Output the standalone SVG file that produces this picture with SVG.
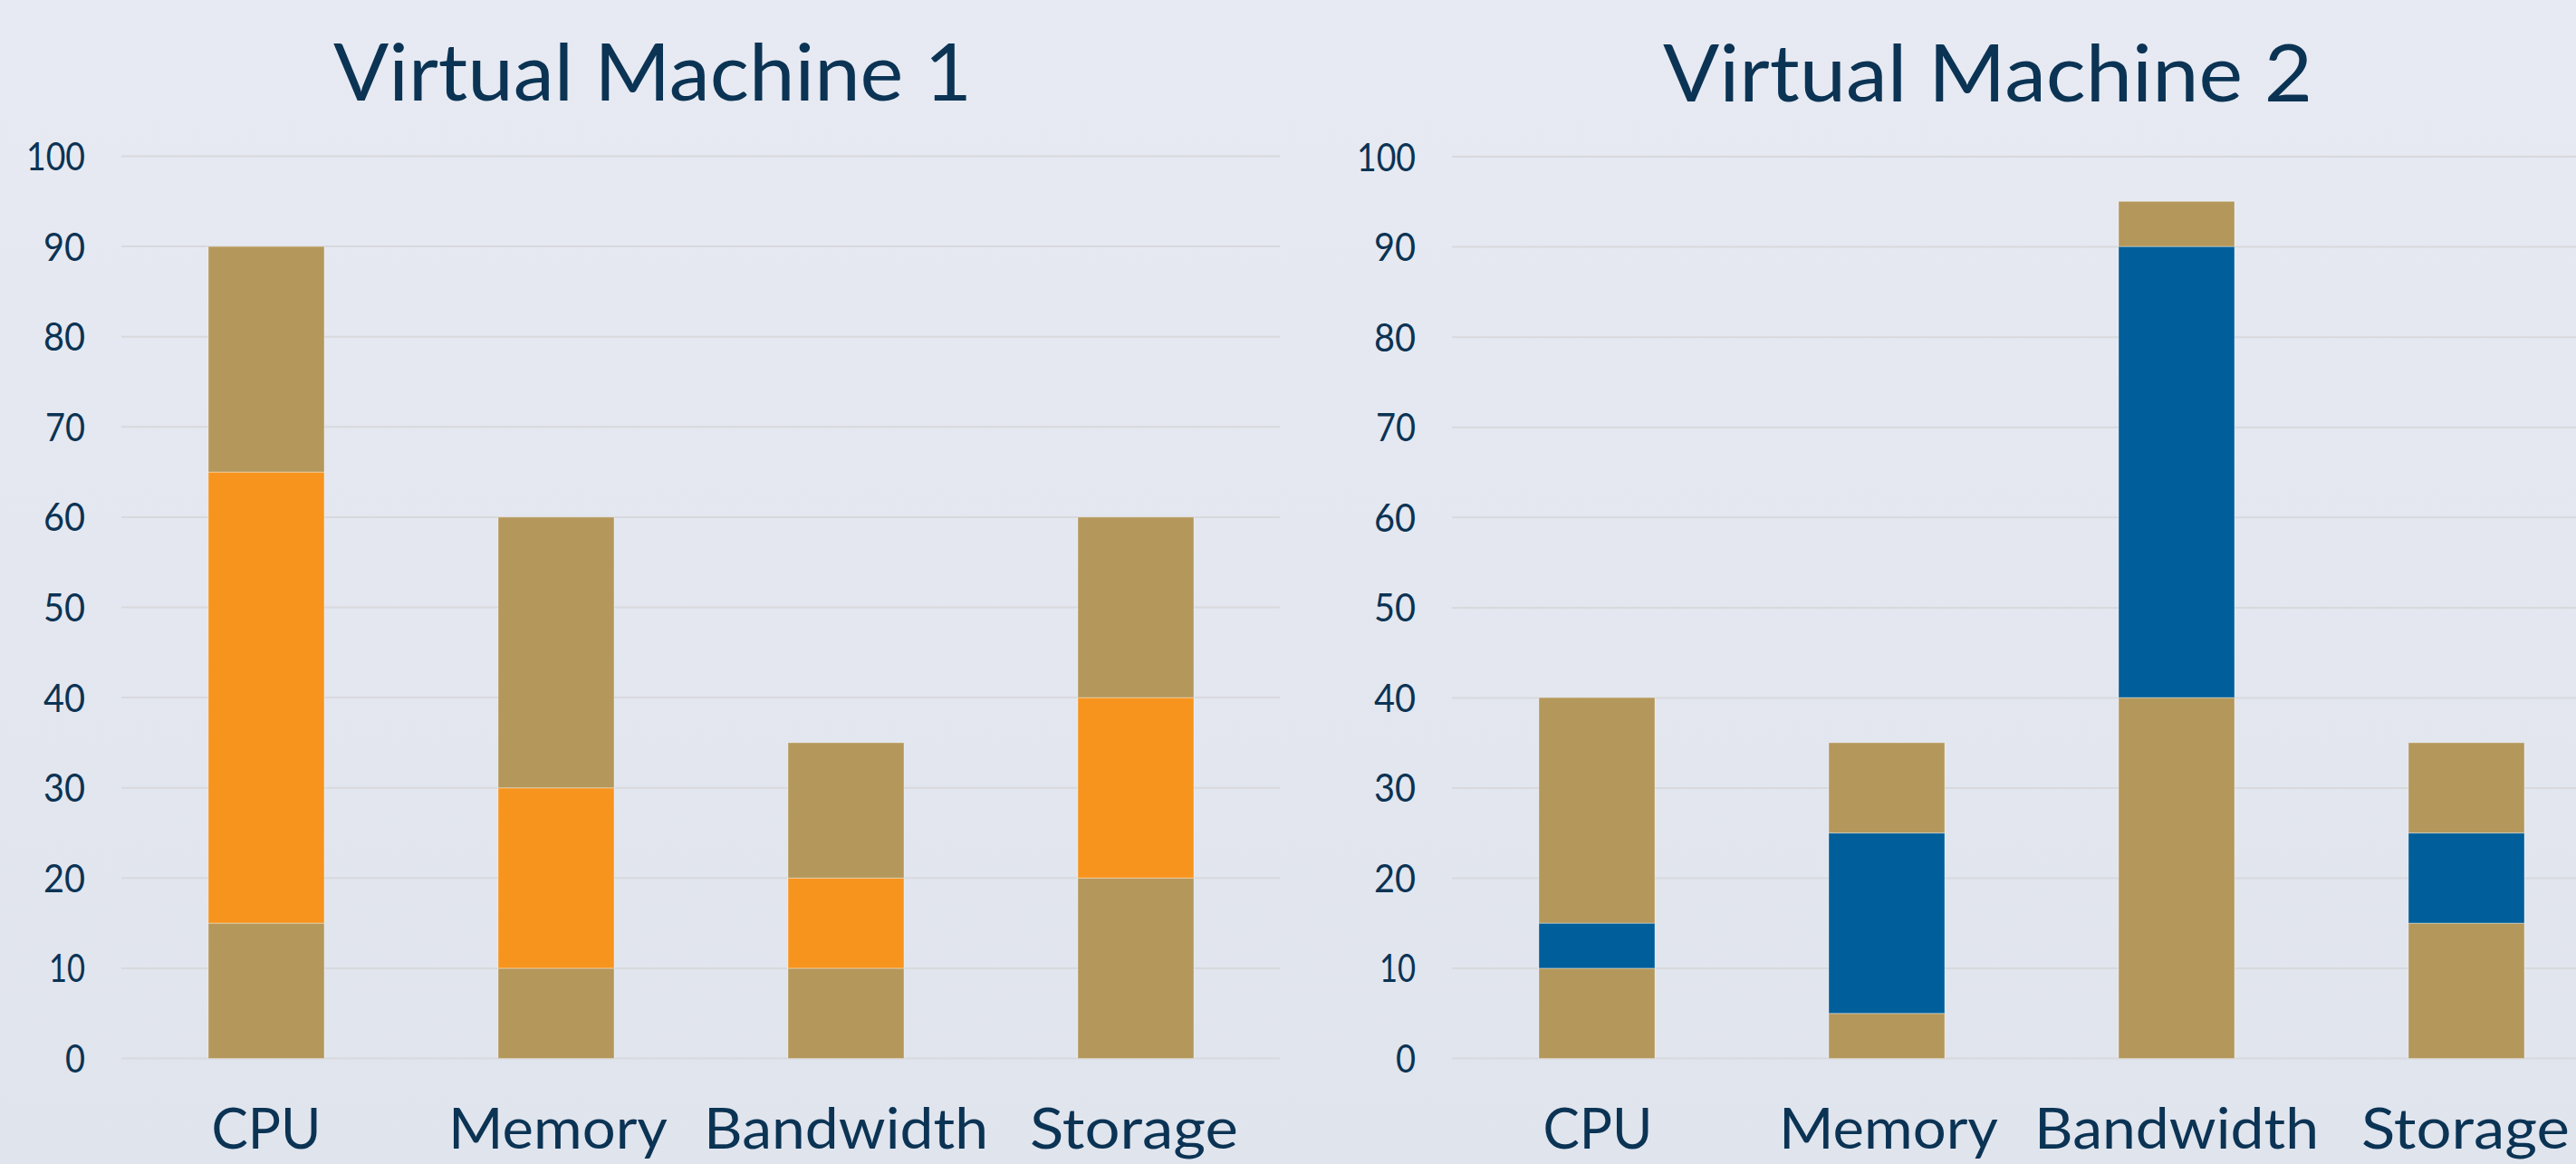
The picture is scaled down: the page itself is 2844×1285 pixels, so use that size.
<svg xmlns="http://www.w3.org/2000/svg" width="2844" height="1285" viewBox="0 0 2844 1285">
  <defs>
    <linearGradient id="bg" x1="0" y1="0" x2="0" y2="1">
      <stop offset="0" stop-color="#e7eaf2"/>
      <stop offset="1" stop-color="#e0e4ed"/>
    </linearGradient>
    <style>
      text { font-family: "Lato", "Noto Sans", "Liberation Sans", sans-serif; font-weight: 400; fill: #0b3354; }
      .title { font-size: 88px; text-anchor: middle; }
      .tick { font-size: 43px; text-anchor: end; }
      .cat { font-size: 61px; text-anchor: middle; }
      .grid { stroke: #d8d9dd; stroke-width: 2; }
      .seg { stroke: rgba(255,255,255,0.3); stroke-width: 1.2; }
      .tan { fill: #b4975a; }
      .orange { fill: #f7941e; }
      .blue { fill: #005f9a; }
    </style>
  </defs>

  <rect width="2844" height="1285" fill="url(#bg)"/>

  <!-- Chart 1 -->
  <g id="chart-vm1">
    <text class="title" x="720.5" y="111" textLength="705" lengthAdjust="spacingAndGlyphs">Virtual Machine 1</text>

    <g id="vm1-grid" class="grid">
      <line x1="134" y1="172.5" x2="1413" y2="172.5"/>
      <line x1="134" y1="272.1" x2="1413" y2="272.1"/>
      <line x1="134" y1="371.7" x2="1413" y2="371.7"/>
      <line x1="134" y1="471.3" x2="1413" y2="471.3"/>
      <line x1="134" y1="570.9" x2="1413" y2="570.9"/>
      <line x1="134" y1="670.5" x2="1413" y2="670.5"/>
      <line x1="134" y1="770.1" x2="1413" y2="770.1"/>
      <line x1="134" y1="869.7" x2="1413" y2="869.7"/>
      <line x1="134" y1="969.3" x2="1413" y2="969.3"/>
      <line x1="134" y1="1068.9" x2="1413" y2="1068.9"/>
      <line x1="134" y1="1168.5" x2="1413" y2="1168.5"/>
    </g>

    <g id="vm1-ticks">
      <text class="tick" x="94" y="188" textLength="65" lengthAdjust="spacingAndGlyphs">100</text>
      <text class="tick" x="94" y="287.6" textLength="46" lengthAdjust="spacingAndGlyphs">90</text>
      <text class="tick" x="94" y="387.2" textLength="46" lengthAdjust="spacingAndGlyphs">80</text>
      <text class="tick" x="94" y="486.8" textLength="44" lengthAdjust="spacingAndGlyphs">70</text>
      <text class="tick" x="94" y="586.4" textLength="46" lengthAdjust="spacingAndGlyphs">60</text>
      <text class="tick" x="94" y="686" textLength="46" lengthAdjust="spacingAndGlyphs">50</text>
      <text class="tick" x="94" y="785.6" textLength="46" lengthAdjust="spacingAndGlyphs">40</text>
      <text class="tick" x="94" y="885.2" textLength="46" lengthAdjust="spacingAndGlyphs">30</text>
      <text class="tick" x="94" y="984.8" textLength="46" lengthAdjust="spacingAndGlyphs">20</text>
      <text class="tick" x="94" y="1084.4" textLength="40" lengthAdjust="spacingAndGlyphs">10</text>
      <text class="tick" x="94" y="1184" textLength="22" lengthAdjust="spacingAndGlyphs">0</text>
    </g>

    <g id="vm1-cpu">
      <rect class="seg tan" x="230" y="1019.1" width="128" height="149.4"/>
      <rect class="seg orange" x="230" y="521.1" width="128" height="498"/>
      <rect class="seg tan" x="230" y="272.1" width="128" height="249"/>
    </g>
    <g id="vm1-memory">
      <rect class="seg tan" x="550" y="1068.9" width="128" height="99.6"/>
      <rect class="seg orange" x="550" y="869.7" width="128" height="199.2"/>
      <rect class="seg tan" x="550" y="570.9" width="128" height="298.8"/>
    </g>
    <g id="vm1-bandwidth">
      <rect class="seg tan" x="870" y="1068.9" width="128" height="99.6"/>
      <rect class="seg orange" x="870" y="969.3" width="128" height="99.6"/>
      <rect class="seg tan" x="870" y="819.9" width="128" height="149.4"/>
    </g>
    <g id="vm1-storage">
      <rect class="seg tan" x="1190" y="969.3" width="128" height="199.2"/>
      <rect class="seg orange" x="1190" y="770.1" width="128" height="199.2"/>
      <rect class="seg tan" x="1190" y="570.9" width="128" height="199.2"/>
    </g>

    <g id="vm1-categories">
      <text class="cat" x="294" y="1268" textLength="121" lengthAdjust="spacingAndGlyphs">CPU</text>
      <text class="cat" x="616" y="1268" textLength="242" lengthAdjust="spacingAndGlyphs">Memory</text>
      <text class="cat" x="934" y="1268" textLength="314" lengthAdjust="spacingAndGlyphs">Bandwidth</text>
      <text class="cat" x="1252" y="1268" textLength="230" lengthAdjust="spacingAndGlyphs">Storage</text>
    </g>
  </g>

  <!-- Chart 2 -->
  <g id="chart-vm2">
    <text class="title" x="2194.5" y="112" textLength="717" lengthAdjust="spacingAndGlyphs">Virtual Machine 2</text>

    <g id="vm2-grid" class="grid">
      <line x1="1603" y1="173" x2="2844" y2="173"/>
      <line x1="1603" y1="272.6" x2="2844" y2="272.6"/>
      <line x1="1603" y1="372.2" x2="2844" y2="372.2"/>
      <line x1="1603" y1="471.8" x2="2844" y2="471.8"/>
      <line x1="1603" y1="571.3" x2="2844" y2="571.3"/>
      <line x1="1603" y1="670.9" x2="2844" y2="670.9"/>
      <line x1="1603" y1="770.4" x2="2844" y2="770.4"/>
      <line x1="1603" y1="869.9" x2="2844" y2="869.9"/>
      <line x1="1603" y1="969.4" x2="2844" y2="969.4"/>
      <line x1="1603" y1="1068.9" x2="2844" y2="1068.9"/>
      <line x1="1603" y1="1168.5" x2="2844" y2="1168.5"/>
    </g>

    <g id="vm2-ticks">
      <text class="tick" x="1563" y="188.5" textLength="65" lengthAdjust="spacingAndGlyphs">100</text>
      <text class="tick" x="1563" y="288.1" textLength="46" lengthAdjust="spacingAndGlyphs">90</text>
      <text class="tick" x="1563" y="387.7" textLength="46" lengthAdjust="spacingAndGlyphs">80</text>
      <text class="tick" x="1563" y="487.3" textLength="44" lengthAdjust="spacingAndGlyphs">70</text>
      <text class="tick" x="1563" y="586.8" textLength="46" lengthAdjust="spacingAndGlyphs">60</text>
      <text class="tick" x="1563" y="686.4" textLength="46" lengthAdjust="spacingAndGlyphs">50</text>
      <text class="tick" x="1563" y="785.9" textLength="46" lengthAdjust="spacingAndGlyphs">40</text>
      <text class="tick" x="1563" y="885.4" textLength="46" lengthAdjust="spacingAndGlyphs">30</text>
      <text class="tick" x="1563" y="984.9" textLength="46" lengthAdjust="spacingAndGlyphs">20</text>
      <text class="tick" x="1563" y="1084.4" textLength="40" lengthAdjust="spacingAndGlyphs">10</text>
      <text class="tick" x="1563" y="1184" textLength="22" lengthAdjust="spacingAndGlyphs">0</text>
    </g>

    <g id="vm2-cpu">
      <rect class="seg tan" x="1699" y="1068.9" width="128" height="99.6"/>
      <rect class="seg blue" x="1699" y="1019.1" width="128" height="49.8"/>
      <rect class="seg tan" x="1699" y="770.1" width="128" height="249"/>
    </g>
    <g id="vm2-memory">
      <rect class="seg tan" x="2019" y="1118.7" width="128" height="49.8"/>
      <rect class="seg blue" x="2019" y="919.5" width="128" height="199.2"/>
      <rect class="seg tan" x="2019" y="819.9" width="128" height="99.6"/>
    </g>
    <g id="vm2-bandwidth">
      <rect class="seg tan" x="2339" y="770.1" width="128" height="398.4"/>
      <rect class="seg blue" x="2339" y="272.1" width="128" height="498"/>
      <rect class="seg tan" x="2339" y="222.3" width="128" height="49.8"/>
    </g>
    <g id="vm2-storage">
      <rect class="seg tan" x="2659" y="1019.1" width="128" height="149.4"/>
      <rect class="seg blue" x="2659" y="919.5" width="128" height="99.6"/>
      <rect class="seg tan" x="2659" y="819.9" width="128" height="99.6"/>
    </g>

    <g id="vm2-categories">
      <text class="cat" x="1764" y="1268" textLength="121" lengthAdjust="spacingAndGlyphs">CPU</text>
      <text class="cat" x="2085" y="1268" textLength="242" lengthAdjust="spacingAndGlyphs">Memory</text>
      <text class="cat" x="2403" y="1268" textLength="314" lengthAdjust="spacingAndGlyphs">Bandwidth</text>
      <text class="cat" x="2722" y="1268" textLength="230" lengthAdjust="spacingAndGlyphs">Storage</text>
    </g>
  </g>
</svg>
